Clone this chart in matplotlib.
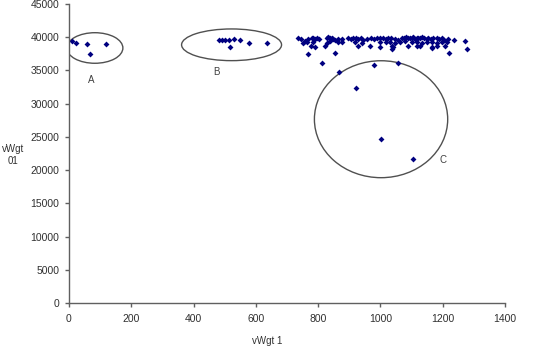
import matplotlib
matplotlib.use('Agg')
import matplotlib.pyplot as plt
from matplotlib.patches import Ellipse

plt.rcParams['font.family'] = ['Liberation Sans', 'DejaVu Sans']

# group A
ax_x = [9, 22, 59, 67, 119]
ax_y = [39400, 39100, 39000, 37400, 39000]

# group B
b_x = [483, 491, 501, 515, 517, 531, 550, 578, 637]
b_y = [39630, 39630, 39580, 39580, 38530, 39730, 39630, 39180, 39090]

# main band
top_x = [736, 744, 758, 768, 779, 785, 790, 795, 804, 827, 833, 838, 843, 849,
         854, 865, 876, 897, 904, 913, 922, 929, 937, 945, 958, 969, 979, 990,
         999, 1007, 1018, 1025, 1033, 1047, 1057, 1068, 1076, 1082, 1090, 1095,
         1100, 1106, 1111, 1116, 1122, 1127, 1132, 1140, 1148, 1154, 1161, 1170,
         1181, 1189, 1197, 1204, 1218, 1236, 1271]
top_y = [39930, 39700, 39500, 39780, 39830, 39880, 39780, 39830, 39700, 39930,
         39980, 39830, 39880, 39730, 39630, 39730, 39780, 39880, 39730, 39830,
         39930, 39780, 39880, 39630, 39730, 39830, 39780, 39880, 39930, 39830,
         39730, 39830, 39930, 39780, 39630, 39830, 39880, 39980, 39930, 39830,
         39880, 39980, 39780, 39930, 39830, 39880, 39980, 39830, 39730, 39880,
         39780, 39830, 39930, 39730, 39830, 39630, 39730, 39630, 39430]
mid_x = [750, 763, 785, 827, 838, 865, 876, 918, 940, 999, 1018, 1031, 1047,
         1063, 1079, 1100, 1116, 1132, 1148, 1165, 1181, 1197, 1213]
mid_y = [39130, 39330, 39280, 39180, 39380, 39230, 39330, 39280, 39180, 39330,
         39230, 39280, 39130, 39330, 39380, 39230, 39330, 39180, 39280, 39230,
         39130, 39330, 39280]
low_x = [776, 790, 822, 929, 966, 999, 1036, 1041, 1090, 1116, 1127, 1165,
         1181, 1207, 1279, 768, 854, 1036, 1165, 1221]
low_y = [38730, 38580, 38680, 38630, 38730, 38530, 38730, 38480, 38680, 38630,
         38730, 38480, 38680, 38630, 38180, 37430, 37680, 38180, 38430, 37680]

# group C (outliers)
c_x = [811, 868, 979, 1057, 921, 1002, 1106]
c_y = [36070, 34830, 35820, 36070, 32310, 24640, 21630]

all_x = ax_x + b_x + top_x + mid_x + low_x + c_x
all_y = ax_y + b_y + top_y + mid_y + low_y + c_y

fig = plt.figure(figsize=(5.41, 3.51), dpi=100)
ax = fig.add_axes([69/541, 48/351, 436/541, 299/351])

ax.plot(all_x, all_y, 'D', color='#000080', markersize=3.0, markeredgewidth=0)

for (cx, cy, w, h) in [(83, 38380, 180, 4600), (522, 38860, 321, 4770),
                       (1002, 27660, 428, 17600)]:
    ax.add_patch(Ellipse((cx, cy), w, h, fill=False, edgecolor='#505050', lw=1.0))

ax.text(71, 33560, 'A', fontsize=7, color='#404040', ha='center', va='center')
ax.text(472, 34770, 'B', fontsize=7, color='#404040', ha='center', va='center')
ax.text(1201, 21520, 'C', fontsize=7, color='#404040', ha='center', va='center')

ax.set_xlim(0, 1400)
ax.set_ylim(0, 45000)
ax.set_xticks(range(0, 1401, 200))
ax.set_yticks(range(0, 45001, 5000))
for s in ['top', 'right']:
    ax.spines[s].set_visible(False)
for s in ['left', 'bottom']:
    ax.spines[s].set_color('#606060')
    ax.spines[s].set_linewidth(1.0)
ax.tick_params(direction='out', length=3, width=1, color='#606060',
               labelsize=7.5, labelcolor='#303030')
ax.tick_params(axis='x', pad=5)
ax.tick_params(axis='y', pad=4)

fig.text(267/541, 1 - 341/351, 'vWgt 1', fontsize=7, color='#303030',
         ha='center', va='center')
fig.text(13/541, 1 - 155/351, 'vWgt\n01', fontsize=7, color='#303030',
         ha='center', va='center', linespacing=1.3)

fig.savefig('out.png', dpi=100)
